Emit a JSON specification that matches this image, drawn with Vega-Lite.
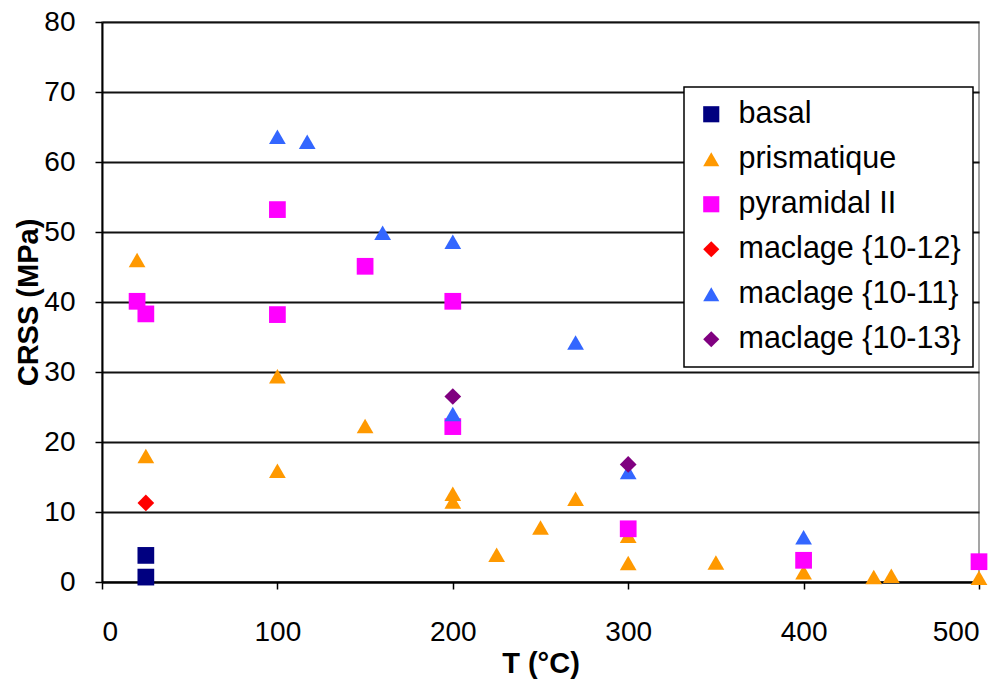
{
  "$schema": "https://vega.github.io/schema/vega-lite/v6.json",
  "width": 877,
  "height": 560,
  "autosize": "none",
  "padding": {"left": 102, "top": 22, "right": 25, "bottom": 100},
  "background": "white",
  "data": {
    "values": [
      {"T": 25, "CRSS": 3.8, "s": "basal"},
      {"T": 25, "CRSS": 0.7, "s": "basal"},
      {"T": 20, "CRSS": 46, "s": "prismatique"},
      {"T": 25, "CRSS": 18, "s": "prismatique"},
      {"T": 100, "CRSS": 29.4, "s": "prismatique"},
      {"T": 100, "CRSS": 15.9, "s": "prismatique"},
      {"T": 150, "CRSS": 22.3, "s": "prismatique"},
      {"T": 200, "CRSS": 12.6, "s": "prismatique"},
      {"T": 200, "CRSS": 11.5, "s": "prismatique"},
      {"T": 225, "CRSS": 3.9, "s": "prismatique"},
      {"T": 250, "CRSS": 7.8, "s": "prismatique"},
      {"T": 270, "CRSS": 11.9, "s": "prismatique"},
      {"T": 300, "CRSS": 6.6, "s": "prismatique"},
      {"T": 300, "CRSS": 2.7, "s": "prismatique"},
      {"T": 350, "CRSS": 2.8, "s": "prismatique"},
      {"T": 400, "CRSS": 1.4, "s": "prismatique"},
      {"T": 440, "CRSS": 0.7, "s": "prismatique"},
      {"T": 450, "CRSS": 0.9, "s": "prismatique"},
      {"T": 500, "CRSS": 0.6, "s": "prismatique"},
      {"T": 20, "CRSS": 40.1, "s": "pyramidal II"},
      {"T": 25, "CRSS": 38.3, "s": "pyramidal II"},
      {"T": 100, "CRSS": 53.2, "s": "pyramidal II"},
      {"T": 100, "CRSS": 38.2, "s": "pyramidal II"},
      {"T": 150, "CRSS": 45.1, "s": "pyramidal II"},
      {"T": 200, "CRSS": 40.1, "s": "pyramidal II"},
      {"T": 200, "CRSS": 22.2, "s": "pyramidal II"},
      {"T": 300, "CRSS": 7.6, "s": "pyramidal II"},
      {"T": 400, "CRSS": 3.1, "s": "pyramidal II"},
      {"T": 500, "CRSS": 2.9, "s": "pyramidal II"},
      {"T": 25, "CRSS": 11.3, "s": "maclage {10-12}"},
      {"T": 100, "CRSS": 63.6, "s": "maclage {10-11}"},
      {"T": 117, "CRSS": 62.9, "s": "maclage {10-11}"},
      {"T": 160, "CRSS": 49.9, "s": "maclage {10-11}"},
      {"T": 200, "CRSS": 48.6, "s": "maclage {10-11}"},
      {"T": 200, "CRSS": 24, "s": "maclage {10-11}"},
      {"T": 270, "CRSS": 34.2, "s": "maclage {10-11}"},
      {"T": 300, "CRSS": 15.7, "s": "maclage {10-11}"},
      {"T": 400, "CRSS": 6.4, "s": "maclage {10-11}"},
      {"T": 200, "CRSS": 26.5, "s": "maclage {10-13}"},
      {"T": 300, "CRSS": 16.8, "s": "maclage {10-13}"}
    ]
  },
  "mark": {"type": "point", "filled": true, "opacity": 1, "size": 280, "strokeWidth": 0, "clip": false},
  "encoding": {
    "x": {
      "field": "T", "type": "quantitative", "title": "T (°C)",
      "scale": {"domain": [0, 500], "nice": false},
      "axis": {"values": [0, 100, 200, 300, 400, 500], "grid": false, "labelPadding": 29, "titlePadding": 3}
    },
    "y": {
      "field": "CRSS", "type": "quantitative", "title": "CRSS (MPa)",
      "scale": {"domain": [0, 80], "nice": false},
      "axis": {"values": [0, 10, 20, 30, 40, 50, 60, 70, 80], "grid": true, "labelPadding": 20, "titlePadding": 0}
    },
    "color": {
      "field": "s", "type": "nominal", "title": null,
      "scale": {
        "domain": ["basal", "prismatique", "pyramidal II", "maclage {10-12}", "maclage {10-11}", "maclage {10-13}"],
        "range": ["#000080", "#FF9900", "#FF00FF", "#FF0000", "#3366FF", "#800080"]
      }
    },
    "shape": {
      "field": "s", "type": "nominal", "title": null,
      "scale": {
        "domain": ["basal", "prismatique", "pyramidal II", "maclage {10-12}", "maclage {10-11}", "maclage {10-13}"],
        "range": ["square", "triangle-up", "square", "diamond", "triangle-up", "diamond"]
      }
    }
  },
  "config": {
    "view": {"stroke": "#888888", "strokeWidth": 1.5},
    "axis": {
      "labelFont": "Liberation Sans", "labelFontSize": 28, "labelColor": "#000000",
      "titleFont": "Liberation Sans", "titleFontSize": 29, "titleFontWeight": "bold", "titleColor": "#000000",
      "domainColor": "#000000", "domainWidth": 2,
      "tickColor": "#000000", "tickWidth": 1.5, "tickSize": 7,
      "gridColor": "#111111", "gridWidth": 1.8, "gridOpacity": 1
    },
    "legend": {
      "orient": "none", "legendX": 582, "legendY": 65,
      "fillColor": "white", "strokeColor": "#000000", "strokeWidth": 1.5,
      "padding": 12, "rowPadding": 14,
      "labelFont": "Liberation Sans", "labelFontSize": 30.5, "labelColor": "#000000",
      "labelOffset": 12, "labelLimit": 400,
      "symbolSize": 260, "symbolStrokeWidth": 0, "symbolOpacity": 1
    }
  }
}
